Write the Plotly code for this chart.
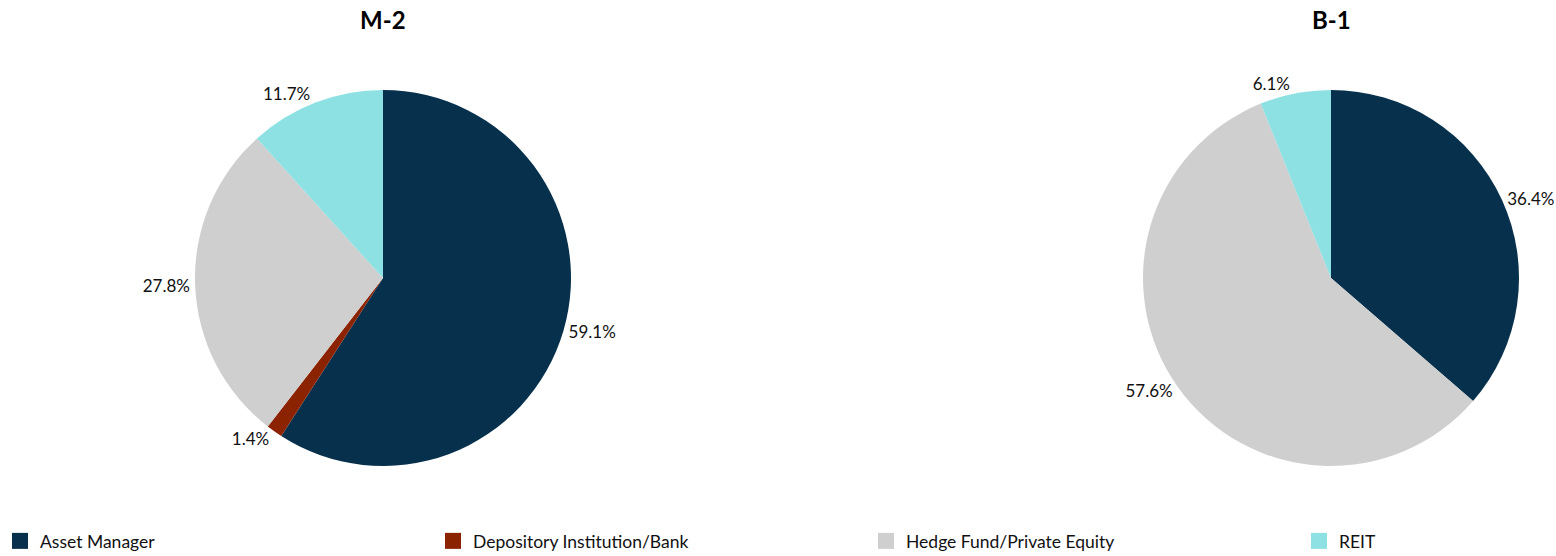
import plotly.graph_objects as go

categories = ["Asset Manager", "Depository Institution/Bank", "Hedge Fund/Private Equity", "REIT"]
colors = ["#06304c", "#8c2300", "#cfcfcf", "#8de1e3"]

m2_labels = ["Asset Manager", "Depository Institution/Bank", "Hedge Fund/Private Equity", "REIT"]
m2_values = [59.1, 1.4, 27.8, 11.7]

b1_labels = ["Asset Manager", "Hedge Fund/Private Equity", "REIT"]
b1_values = [36.4, 57.6, 6.1]

color_map = dict(zip(categories, colors))
FONT = "Lato"
W, H = 1556, 556

def dom(cx, cy, r):
    return dict(x=[(cx - r) / W, (cx + r) / W], y=[(H - cy - r) / H, (H - cy + r) / H])

fig = go.Figure()
fig.add_trace(go.Pie(
    labels=m2_labels, values=m2_values, sort=False, direction="clockwise", rotation=0,
    marker=dict(colors=[color_map[c] for c in m2_labels], line=dict(width=0)),
    textposition="outside", texttemplate="%{value:.1f}%",
    textfont=dict(family=FONT, size=17, color="#111111"),
    domain=dom(383, 278, 188), hoverinfo="label+value", showlegend=False,
))
fig.add_trace(go.Pie(
    labels=b1_labels, values=b1_values, sort=False, direction="clockwise", rotation=0,
    marker=dict(colors=[color_map[c] for c in b1_labels], line=dict(width=0)),
    textposition="outside", texttemplate="%{value:.1f}%",
    textfont=dict(family=FONT, size=17, color="#111111"),
    domain=dom(1331, 278, 188), hoverinfo="label+value", showlegend=False,
))

# legend entries, one legend per category spread across the bottom
legend_names = ["legend", "legend2", "legend3", "legend4"]
legend_x_px = [0, 433, 866, 1299]
for cat, col, lg in zip(categories, colors, legend_names):
    fig.add_trace(go.Scatter(
        x=[None], y=[None], mode="markers", name=cat, legend=lg,
        marker=dict(symbol="square", size=16, color=col), hoverinfo="skip", showlegend=True,
    ))

legend_common = dict(orientation="h", xanchor="left", y=(H - 541) / H, yanchor="middle",
                     font=dict(family=FONT, size=17.5, color="#111111"), itemclick=False,
                     itemdoubleclick=False, bgcolor="rgba(0,0,0,0)")
layout_legends = {}
for lg, xp in zip(legend_names, legend_x_px):
    layout_legends[lg] = dict(x=xp / W, **legend_common)

for title, cx in [("M-2", 383), ("B-1", 1331)]:
    fig.add_annotation(text=f"<b>{title}</b>", x=cx / W, y=(H - 19) / H, xref="paper", yref="paper",
                       xanchor="center", yanchor="middle",
                       showarrow=False, font=dict(family=FONT, size=24, color="#000000"))

fig.update_layout(
    width=W, height=H,
    margin=dict(l=0, r=0, t=0, b=0, autoexpand=False),
    paper_bgcolor="white", plot_bgcolor="white",
    font=dict(family=FONT, color="#111111"),
    xaxis=dict(visible=False, range=[0, 1]),
    yaxis=dict(visible=False, range=[0, 1]),
    **layout_legends,
)

fig.write_html("out.html", config={"displayModeBar": False},
               post_script="document.body.style.margin='0';")
